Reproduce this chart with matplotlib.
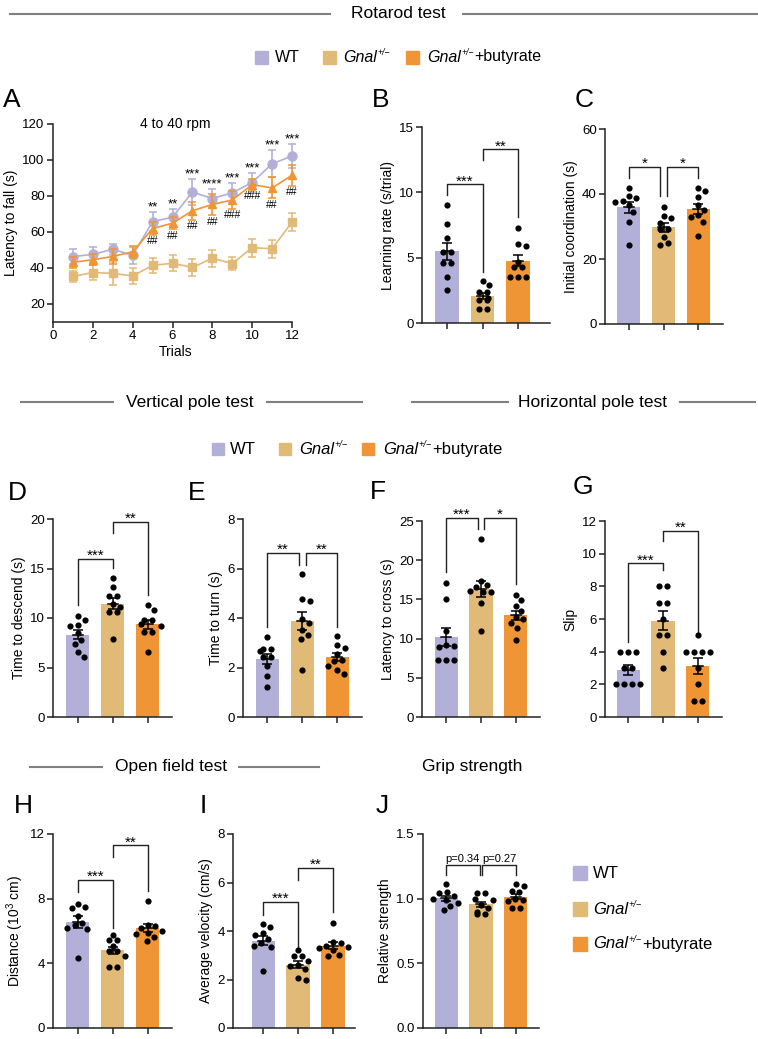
import numpy as np
import matplotlib
matplotlib.use("Agg")
import matplotlib.pyplot as plt
from matplotlib.lines import Line2D
from matplotlib.patches import Rectangle

# --------- data ---------
trials = [1, 2, 3, 4, 5, 6, 7, 8, 9, 10, 11, 12]
wt_mean = [46.3, 47.6, 50.4, 47.0, 65.8, 68.2, 82.2, 78.6, 81.8, 87.5, 97.9, 102.2]
wt_sem = [4.0, 4.3, 3.2, 4.5, 5.2, 4.6, 7.2, 5.1, 5.6, 5.3, 7.5, 6.5]
gnal_mean = [35.3, 37.5, 37.0, 35.6, 41.5, 42.6, 40.3, 45.4, 42.5, 51.3, 50.7, 65.5]
gnal_sem = [3.2, 4.0, 6.2, 4.6, 4.0, 4.5, 4.8, 4.8, 3.6, 5.0, 5.0, 4.8]
but_mean = [43.2, 44.6, 46.4, 49.0, 61.9, 64.9, 71.8, 75.3, 77.8, 86.3, 84.5, 91.5]
but_sem = [3.0, 3.2, 4.0, 3.2, 3.5, 3.5, 5.0, 6.0, 5.0, 3.0, 5.8, 6.0]
star_labels = ["", "", "", "", "**", "**", "***", "****", "***", "***", "***", "***"]
hash_labels = ["", "", "", "", "##", "##", "##", "##", "###", "###", "##", "##"]

# per-animal values: WT, Gnal+/-, Gnal+/- + butyrate
learn_wt = [9.03, 7.58, 6.49, 5.42, 5.42, 4.63, 4.63, 3.51, 2.54]
learn_gnal = [3.23, 2.90, 2.37, 2.37, 1.93, 1.76, 1.76, 1.07, 1.07]
learn_but = [7.30, 6.06, 5.90, 4.70, 4.27, 4.27, 3.50, 3.50, 3.50]

coord_wt = [42.0, 39.5, 38.7, 38.0, 37.6, 36.5, 34.5, 31.5, 24.4]
coord_gnal = [35.9, 33.1, 32.6, 31.0, 29.3, 29.3, 26.9, 24.9, 24.4]
coord_but = [42.0, 40.8, 39.0, 36.5, 35.0, 33.5, 33.0, 31.5, 27.0]

descend_wt = [10.2, 9.8, 9.3, 9.2, 8.5, 7.8, 7.4, 6.6, 6.1]
descend_gnal = [14.0, 13.1, 12.2, 12.2, 11.4, 11.1, 10.6, 10.6, 7.9]
descend_but = [11.3, 10.8, 9.8, 9.8, 9.4, 9.2, 8.6, 8.6, 6.6]

turn_wt = [3.22, 2.75, 2.75, 2.65, 2.43, 2.43, 2.08, 1.65, 1.20]
turn_gnal = [5.77, 4.75, 4.70, 3.95, 3.80, 3.50, 3.30, 3.15, 1.90]
turn_but = [3.27, 2.90, 2.80, 2.55, 2.30, 2.25, 2.05, 1.90, 1.75]

cross_wt = [17.1, 15.0, 11.0, 9.2, 9.0, 8.9, 7.3, 7.3, 7.3]
cross_gnal = [22.7, 17.4, 16.8, 16.6, 16.1, 16.0, 15.9, 14.5, 11.0]
cross_but = [15.6, 14.9, 14.2, 13.5, 12.8, 12.5, 12.0, 11.3, 9.8]

slip_wt = [4, 4, 4, 3, 3, 2, 2, 2, 2]
slip_gnal = [8, 8, 7, 7, 6, 5, 5, 4, 3]
slip_but = [5, 4, 4, 4, 4, 3, 2, 1, 1]

dist_wt = [7.7, 7.5, 7.4, 6.9, 6.5, 6.4, 6.2, 6.1, 4.3]
dist_gnal = [5.77, 5.46, 5.46, 5.05, 4.74, 4.74, 4.47, 3.75, 3.75]
dist_but = [7.88, 6.4, 6.3, 6.2, 6.0, 5.9, 5.8, 5.6, 5.4]

vel_wt = [4.28, 4.15, 3.90, 3.85, 3.65, 3.50, 3.40, 3.35, 2.35]
vel_gnal = [3.22, 2.95, 2.95, 2.75, 2.60, 2.55, 2.45, 2.05, 2.00]
vel_but = [4.35, 3.55, 3.50, 3.40, 3.35, 3.30, 3.20, 3.00, 2.95]

grip_wt = [1.11, 1.05, 1.04, 1.02, 1.00, 0.99, 0.97, 0.94, 0.91]
grip_gnal = [1.04, 1.04, 1.00, 0.99, 0.95, 0.93, 0.90, 0.88, 0.88]
grip_but = [1.11, 1.10, 1.06, 1.05, 1.00, 0.99, 0.98, 0.93, 0.93]

# brackets: (x0, x1, y, leg0, leg1, label)
br_B = [(0, 1, 10.6, 9.8, 3.9, "***"), (1, 2, 13.3, 12.5, 8.1, "**")]
br_C = [(0, 0.9, 48.3, 44.9, 39.3, "*"), (1.1, 2, 48.3, 39.3, 44.9, "*")]
br_D = [(0, 1, 16.0, 11.3, 15.1, "***"), (1, 2, 19.7, 18.6, 12.3, "**")]
br_E = [(0, 0.9, 6.64, 3.65, 6.15, "**"), (1.1, 2, 6.64, 6.15, 3.65, "**")]
br_F = [(0, 0.9, 25.4, 18.5, 24.0, "***"), (1.1, 2, 25.4, 24.0, 17.0, "*")]
br_G = [(0, 1, 9.4, 4.6, 9.0, "***"), (1, 2, 11.4, 10.8, 5.0, "**")]
br_H = [(0, 1, 9.18, 8.4, 6.2, "***"), (1, 2, 11.3, 10.6, 8.45, "**")]
br_I = [(0, 1, 5.2, 4.66, 3.36, "***"), (1, 2, 6.6, 6.1, 4.8, "**")]
br_J = [(0, 0.96, 1.26, 1.18, 1.18, "p=0.34"), (1.04, 2, 1.26, 1.18, 1.18, "p=0.27")]

C_WT = "#B2AFD9"
C_GNAL = "#E2BA78"
C_BUT = "#EF9535"
COLORS = [C_WT, C_GNAL, C_BUT]

# --------- style ---------
plt.rcParams["font.family"] = ["Liberation Sans", "DejaVu Sans"]
plt.rcParams["mathtext.fontset"] = "custom"
plt.rcParams["mathtext.rm"] = "Liberation Sans"
plt.rcParams["mathtext.it"] = "Liberation Sans:italic"
plt.rcParams["mathtext.bf"] = "Liberation Sans:bold"

W, H = 758, 1039
fig = plt.figure(figsize=(W / 100, H / 100), dpi=100)
renderer = fig.canvas.get_renderer()


def box(l, t, r, b):
    return fig.add_axes([l / W, 1 - b / H, (r - l) / W, (b - t) / H])


def ftxt(x, y, s, **kw):
    return fig.text(x / W, 1 - y / H, s, **kw)


def hline(x0, x1, y):
    fig.add_artist(Line2D([x0 / W, x1 / W], [1 - y / H, 1 - y / H], color="#808080", lw=1.5))


def header(cx, y, s, lines=()):
    ftxt(cx, y, s, ha="center", va="center", fontsize=12.5)
    for x0, x1 in lines:
        hline(x0, x1, y)


def gnal_label(x, y, fs, suffix=""):
    # italic "Gnal" with a small raised "+/-", then optional plain suffix
    t = ftxt(x, y, "Gnal", style="italic", fontsize=fs, ha="left", va="center")
    x1 = t.get_window_extent(renderer).x1
    up = fs * 0.27 * 100 / 72
    t2 = ftxt(x1 + 0.6, y - up, "+/\u2212", style="italic", fontsize=fs * 0.55,
              ha="left", va="center")
    x2 = t2.get_window_extent(renderer).x1
    if suffix:
        ftxt(x2 + 0.6, y, suffix, fontsize=fs, ha="left", va="center")


def legend_row(items, y, sq, fs):
    for xs, xt, lab, c in items:
        fig.add_artist(Rectangle((xs / W, 1 - (y + sq / 2) / H), sq / W, sq / H,
                                 color=c, transform=fig.transFigure))
        if lab == "WT":
            ftxt(xt, y, lab, ha="left", va="center", fontsize=fs)
        else:
            gnal_label(xt, y, fs, lab)


def style(ax):
    for s in ("top", "right"):
        ax.spines[s].set_visible(False)
    for s in ("left", "bottom"):
        ax.spines[s].set_linewidth(1.1)
        ax.spines[s].set_color("#222222")
    ax.tick_params(direction="out", length=4, width=1.1, labelsize=9.5, pad=2, colors="#222222")
    for lab in ax.get_xticklabels() + ax.get_yticklabels():
        lab.set_color("black")


def swarm(vals, ppy, ppx, d=7.8):
    v = np.asarray(vals, dtype=float)
    ys = v * ppy
    xs = np.zeros(len(v))
    placed = []
    for i in np.argsort(-ys, kind="stable"):
        cands = [0.0]
        for j in placed:
            dy = ys[i] - ys[j]
            if abs(dy) < d:
                dx = np.sqrt(d * d - dy * dy)
                cands += [xs[j] + dx, xs[j] - dx]
        for c in sorted(cands, key=abs):
            if all((c - xs[j]) ** 2 + (ys[i] - ys[j]) ** 2 >= d * d - 1e-6 for j in placed):
                xs[i] = c
                break
        placed.append(i)
    for u in np.unique(v):
        idx = np.where(v == u)[0]
        if len(idx) > 1:
            xs[idx] = (np.arange(len(idx)) - (len(idx) - 1) / 2) * d
    return xs / ppx


def bar_panel(ax, groups, ylim, yticks, ylabel, xlim, brackets, fmt=None):
    pos = ax.get_position()
    ppy = pos.height * H / (ylim[1] - ylim[0])
    ppx = pos.width * W / (xlim[1] - xlim[0])
    for i, (vals, c) in enumerate(zip(groups, COLORS)):
        v = np.asarray(vals, dtype=float)
        m = v.mean()
        sem = v.std(ddof=1) / np.sqrt(len(v))
        ax.bar(i, m, width=0.66, color=c, zorder=1)
        ax.scatter(i + swarm(v, ppy, ppx), v, s=20, color="black", linewidths=0,
                   zorder=3, clip_on=False)
        ax.errorbar(i, m, yerr=sem, color="black", lw=1.1, capsize=3.5, capthick=1.1, zorder=4)
        ax.plot([i - 0.15, i + 0.15], [m, m], color="black", lw=1.1, zorder=4)
    for x0, x1, y, l0, l1, lab in brackets:
        ax.plot([x0, x0, x1, x1], [l0, y, y, l1], color="#222222", lw=1.0, clip_on=False)
        if lab.startswith("p"):
            ax.annotate(lab, ((x0 + x1) / 2, y), xytext=(0, 1), textcoords="offset points",
                        ha="center", va="bottom", fontsize=8, annotation_clip=False)
        else:
            ax.annotate(lab, ((x0 + x1) / 2, y), xytext=(0, -3), textcoords="offset points",
                        ha="center", va="bottom", fontsize=11, annotation_clip=False)
    ax.set_xlim(*xlim)
    ax.set_ylim(*ylim)
    ax.set_xticks([0, 1, 2])
    ax.set_xticklabels([])
    ax.set_yticks(yticks)
    if fmt:
        ax.set_yticklabels([fmt.format(t) for t in yticks])
    ax.set_ylabel(ylabel, fontsize=10, labelpad=3)
    style(ax)


# --------- section headers / legends ---------
header(398, 14, "Rotarod test", [(10, 330), (463, 757)])
legend_row([(255, 275, "WT", C_WT), (323, 343, "", C_GNAL), (406, 427, "+butyrate", C_BUT)],
           57, 13, 11.5)
header(190, 402, "Vertical pole test", [(21, 113), (267, 362)])
header(592, 402, "Horizontal pole test", [(412, 508), (680, 755)])
legend_row([(212, 230, "WT", C_WT), (279, 299, "", C_GNAL), (362, 383, "+butyrate", C_BUT)],
           449, 12, 12)
header(171, 767, "Open field test", [(30, 102), (239, 319)])
header(472, 767, "Grip strength")
legend_row([(573, 593, "WT", C_WT)], 873, 14, 12)
legend_row([(573, 593, "", C_GNAL)], 909, 14, 12)
legend_row([(573, 593, "+butyrate", C_BUT)], 944, 14, 12)

# panel letters
for lab, x, y in [("A", 3, 107), ("B", 372, 107), ("C", 575, 107),
                  ("D", 8, 500), ("E", 188, 500), ("F", 370, 499), ("G", 573, 494),
                  ("H", 14, 813), ("I", 200, 813), ("J", 376, 813)]:
    ftxt(x, y, lab, ha="left", va="baseline", fontsize=19)

# --------- A: rotarod time course ---------
axA = box(53, 124, 298, 322)
axA.errorbar(trials, gnal_mean, yerr=gnal_sem, color=C_GNAL, marker="s", ms=6, lw=1.2,
             capsize=3, capthick=1.1, zorder=2)
axA.errorbar(trials, wt_mean, yerr=wt_sem, color=C_WT, marker="o", ms=6.5, lw=1.2,
             capsize=3, capthick=1.1, zorder=3)
axA.errorbar(trials, but_mean, yerr=but_sem, color=C_BUT, marker="^", ms=6, lw=1.2,
             capsize=3, capthick=1.1, zorder=4)
for t, m, s, lab in zip(trials, wt_mean, wt_sem, star_labels):
    if lab:
        axA.annotate(lab, (t, m + s), xytext=(0, -1), textcoords="offset points",
                     ha="center", va="bottom", fontsize=9.5)
for t, m, s, lab in zip(trials, but_mean, but_sem, hash_labels):
    if lab:
        axA.annotate(lab, (t, m - s), xytext=(0, -1), textcoords="offset points",
                     ha="center", va="top", fontsize=7.5)
axA.text(0.5, 1.0, "4 to 40 rpm", transform=axA.transAxes, ha="center", va="center", fontsize=10)
axA.set_xlim(0, 12.3)
axA.set_ylim(10, 120)
axA.set_xticks(range(0, 13, 2))
axA.set_yticks(range(20, 121, 20))
axA.spines["bottom"].set_bounds(0, 12)
axA.set_xlabel("Trials", fontsize=10, labelpad=2)
axA.set_ylabel("Latency to fall (s)", fontsize=10, labelpad=3)
style(axA)

# --------- B-J: bar panels ---------
bar_panel(box(422, 127, 550, 323), [learn_wt, learn_gnal, learn_but], (0, 15), [0, 5, 10, 15],
          "Learning rate (s/trial)", (-0.71, 2.9), br_B)
bar_panel(box(605, 129, 723, 324), [coord_wt, coord_gnal, coord_but], (0, 60), [0, 20, 40, 60],
          "Initial coordination (s)", (-0.69, 2.71), br_C)
bar_panel(box(53, 519, 172, 717), [descend_wt, descend_gnal, descend_but], (0, 20),
          [0, 5, 10, 15, 20], "Time to descend (s)", (-0.71, 2.69), br_D)
bar_panel(box(243, 519, 362, 717), [turn_wt, turn_gnal, turn_but], (0, 8), [0, 2, 4, 6, 8],
          "Time to turn (s)", (-0.69, 2.71), br_E)
bar_panel(box(422, 521, 540, 717), [cross_wt, cross_gnal, cross_but], (0, 25),
          [0, 5, 10, 15, 20, 25], "Latency to cross (s)", (-0.69, 2.69), br_F)
bar_panel(box(605, 521, 722, 717), [slip_wt, slip_gnal, slip_but], (0, 12),
          [0, 2, 4, 6, 8, 10, 12], "Slip", (-0.66, 2.69), br_G)
bar_panel(box(53, 834, 172, 1028), [dist_wt, dist_gnal, dist_but], (0, 12), [0, 4, 8, 12],
          r"Distance (10$^3$ cm)", (-0.71, 2.69), br_H)
bar_panel(box(233, 834, 355, 1028), [vel_wt, vel_gnal, vel_but], (0, 8), [0, 2, 4, 6, 8],
          "Average velocity (cm/s)", (-0.86, 2.63), br_I)
bar_panel(box(423, 834, 539, 1028), [grip_wt, grip_gnal, grip_but], (0, 1.5),
          [0, 0.5, 1.0, 1.5], "Relative strength", (-0.66, 2.66), br_J, fmt="{:.1f}")

fig.savefig("out.png", dpi=100)
